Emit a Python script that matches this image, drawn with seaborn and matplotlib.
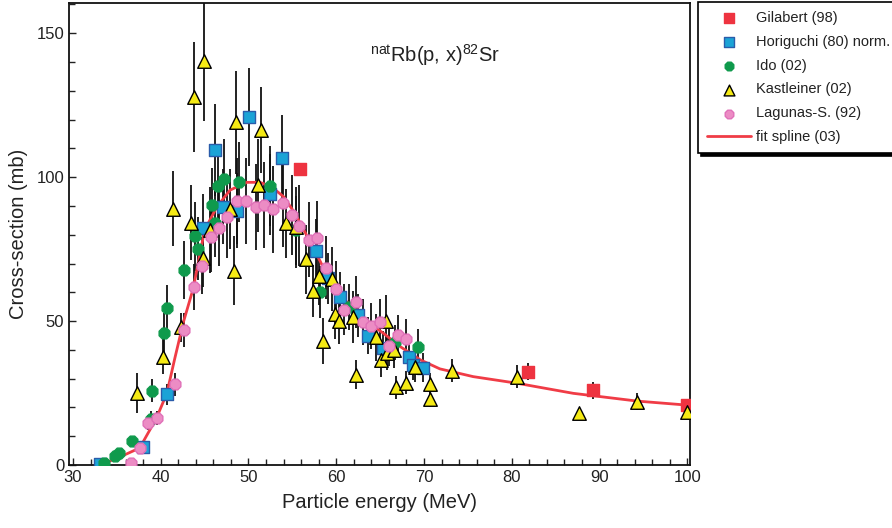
import numpy as np
import pandas as pd
import matplotlib
matplotlib.use("Agg")
import matplotlib.pyplot as plt
from matplotlib.ticker import MultipleLocator
import seaborn as sns

# ---------------- data ----------------
gil_E = [55.9, 81.8, 89.3, 100.0]
gil_s = [102.8, 32.4, 26.0, 21.0]
gil_err = [0.5, 3.0, 3.0, 1.5]

hor_E = [33.1, 38.0, 40.7, 44.8, 46.2, 47.1, 48.7, 50.1, 52.5, 53.8, 57.7, 59.1,
         60.4, 62.5, 63.6, 65.3, 68.3, 68.7, 69.9]
hor_s = [0.3, 6.2, 24.5, 82.3, 109.4, 89.7, 88.3, 121.0, 94.0, 106.6, 74.4, 64.8,
         58.4, 52.0, 44.9, 40.5, 37.4, 34.7, 33.8]
hor_err = [0.1, 1.0, 3.5, 12, 16, 13, 13, 17, 14, 15, 11, 9, 8.5, 7.5, 6.5, 6, 5.5, 5, 5]

ido_E = [33.5, 34.8, 35.3, 36.7, 38.9, 39.0, 40.4, 40.75, 42.6, 43.9, 44.2, 45.8,
         46.2, 46.5, 47.2, 48.9, 52.5, 55.4, 58.2, 61.5, 66.7, 69.3]
ido_s = [0.6, 3.1, 4.3, 8.4, 16.1, 25.8, 45.9, 54.7, 67.7, 79.5, 75.2, 90.3,
         84.1, 96.9, 99.2, 98.3, 96.9, 81.6, 60.2, 55.0, 42.6, 41.1]
ido_err = [0.2, 0.5, 0.6, 1.2, 2.5, 4, 7, 8, 10, 12, 11, 13, 12, 14, 14, 14, 14, 12, 9, 8, 6, 6]

kas_E = [37.3, 40.3, 41.4, 42.3, 43.5, 43.8, 44.8, 44.9, 45.6, 47.9, 48.4, 48.6,
         51.1, 51.4, 54.3, 55.4, 56.6, 57.3, 58.0, 58.5, 59.5, 59.8, 60.3, 61.9,
         62.3, 64.5, 65.1, 65.7, 65.8, 66.6, 66.8, 68.0, 69.0, 70.7, 70.7, 73.2,
         80.6, 87.6, 94.3, 100.0]
kas_s = [25.0, 37.6, 89.1, 47.8, 84.1, 127.9, 71.8, 140.4, 81.6, 89.0, 67.5, 119.0,
         97.1, 116.3, 84.0, 82.6, 71.4, 60.4, 65.5, 43.0, 64.6, 52.6, 49.9, 51.3,
         31.4, 44.3, 36.5, 50.0, 39.0, 39.8, 27.0, 28.6, 34.0, 28.1, 23.0, 32.8,
         30.7, 17.9, 22.0, 18.5]
kas_err = [7, 6, 13, 5, 13, 19, 10, 21, 15, 14, 12, 18, 16, 15, 12, 14, 12, 9, 10, 8,
           11, 9, 8, 9, 5, 8, 6, 9, 6, 6, 4, 4, 5, 4, 3, 4, 4, 2, 3, 2]

lag_E = [36.6, 37.6, 38.6, 39.6, 41.6, 42.6, 43.8, 44.7, 45.7, 46.6, 47.6, 48.7,
         49.7, 50.9, 51.8, 52.8, 53.9, 54.9, 55.8, 56.85, 57.8, 58.8, 60.0, 60.9,
         62.2, 63.0, 64.0, 65.0, 66.0, 67.0, 68.0]
lag_s = [0.6, 5.8, 14.7, 16.4, 28.1, 46.9, 61.9, 69.3, 79.1, 82.2, 86.0, 91.7,
         91.7, 89.7, 90.3, 88.8, 90.9, 86.8, 83.2, 78.3, 78.7, 68.6, 61.0, 54.0,
         56.7, 49.8, 48.4, 49.7, 41.3, 45.1, 43.6]
lag_err = [0.3, 1.5, 2.5, 2.5, 4, 6, 8, 10, 12, 13, 14, 15, 15, 15, 15, 15, 15, 14,
           14, 13, 13, 11, 10, 9, 9, 8, 8, 8, 7, 7, 7]

spl_E = [33.6, 35.5, 37.6, 39.5, 40.7, 41.6, 42.6, 43.7, 45.0, 46.4, 47.9, 49.8,
         51.3, 52.6, 54.0, 55.3, 56.5, 58.2, 59.7, 61.6, 63.5, 65.4, 67.3, 69.6,
         71.8, 75.6, 80.6, 87.0, 94.3, 100.0]
spl_s = [0.6, 3.0, 5.9, 16.2, 24.9, 37.0, 49.8, 61.3, 81.6, 89.7, 95.5, 98.2,
         98.2, 96.7, 93.2, 87.4, 80.5, 70.6, 60.8, 55.6, 49.8, 45.7, 41.1, 36.5,
         33.4, 30.7, 28.4, 24.9, 22.2, 20.8]

labels = ["Gilabert (98)", "Horiguchi (80) norm.", "Ido (02)", "Kastleiner (02)",
          "Lagunas-S. (92)", "fit spline (03)"]

# ---------------- style ----------------
sns.set_style("ticks")
plt.rcParams["font.family"] = ["Liberation Sans", "DejaVu Sans"]
plt.rcParams["mathtext.fontset"] = "custom"
plt.rcParams["mathtext.rm"] = "Liberation Sans"
plt.rcParams["mathtext.it"] = "Liberation Sans:italic"
txt = "#222222"

fig = plt.figure(figsize=(8.92, 5.28), dpi=100)
ax = fig.add_axes([69 / 892, 1 - 465 / 528, (690 - 69) / 892, (465 - 3) / 528])

def frame(E, s, err):
    return pd.DataFrame({"E": E, "s": s, "err": err})

series = [
    (frame(gil_E, gil_s, gil_err), dict(marker="s", color="#ee3340", edgecolor="#ee3340", s=80), labels[0]),
    (frame(hor_E, hor_s, hor_err), dict(marker="s", color="#1ba3d6", edgecolor="#2a5caa", s=80), labels[1]),
    (frame(ido_E, ido_s, ido_err), dict(marker="8", color="#0f9a4c", edgecolor="#0f9a4c", s=70), labels[2]),
    (frame(kas_E, kas_s, kas_err), dict(marker="^", color="#f5ea14", edgecolor="black", s=95), labels[3]),
    (frame(lag_E, lag_s, lag_err), dict(marker="8", color="#ec8cc4", edgecolor="#e070b8", s=70), labels[4]),
]

# error bars
for df, kw, lab in series:
    ax.errorbar(df["E"], df["s"], yerr=df["err"], fmt="none", ecolor="#111111",
                elinewidth=1.3, capsize=0, zorder=1)

# spline
spl = pd.DataFrame({"E": spl_E, "s": spl_s})
sns.lineplot(data=spl, x="E", y="s", ax=ax, color="#f03c46", lw=2.0, zorder=2,
             label=labels[5], sort=False)

# markers
for df, kw, lab in series:
    sns.scatterplot(data=df, x="E", y="s", ax=ax, linewidth=1.0, zorder=3,
                    label=lab, **kw)

ax.set_xlim(29.55, 100.3)
ax.set_ylim(0, 160.5)
ax.xaxis.set_major_locator(MultipleLocator(10))
ax.xaxis.set_minor_locator(MultipleLocator(2))
ax.yaxis.set_major_locator(MultipleLocator(50))
ax.yaxis.set_minor_locator(MultipleLocator(10))
ax.tick_params(which="both", direction="in", top=False, right=False,
               colors=txt, labelsize=12, width=1.0)
ax.tick_params(which="major", length=5)
ax.tick_params(which="minor", length=4)
for sp in ax.spines.values():
    sp.set_visible(True)
    sp.set_linewidth(1.3)
    sp.set_color("#111111")

ax.set_xlabel("Particle energy (MeV)", fontsize=14.5, color=txt, labelpad=6)
ax.set_ylabel("Cross-section (mb)", fontsize=14.5, color=txt, labelpad=6)

ax.text(0.59, 0.887, r"$^{\mathrm{nat}}$Rb(p, x)$^{82}$Sr", transform=ax.transAxes,
        ha="center", va="center", fontsize=14.5, color=txt)

# legend
handles, labs = ax.get_legend_handles_labels()
order = [labs.index(l) for l in labels]
ax.get_legend().remove()
leg = fig.legend([handles[i] for i in order], [labs[i] for i in order],
                 loc="upper left", bbox_to_anchor=(698 / 892, 1 - 2 / 528),
                 frameon=True, fancybox=False, shadow={"color": "black", "alpha": 1.0},
                 edgecolor="black", fontsize=10.5, handlelength=3.0,
                 handletextpad=0.35, borderpad=0.6, labelspacing=0.68,
                 borderaxespad=0, markerscale=0.8)
leg.get_frame().set_linewidth(1.2)
for t in leg.get_texts():
    t.set_color(txt)

fig.savefig("out.png", dpi=100)
